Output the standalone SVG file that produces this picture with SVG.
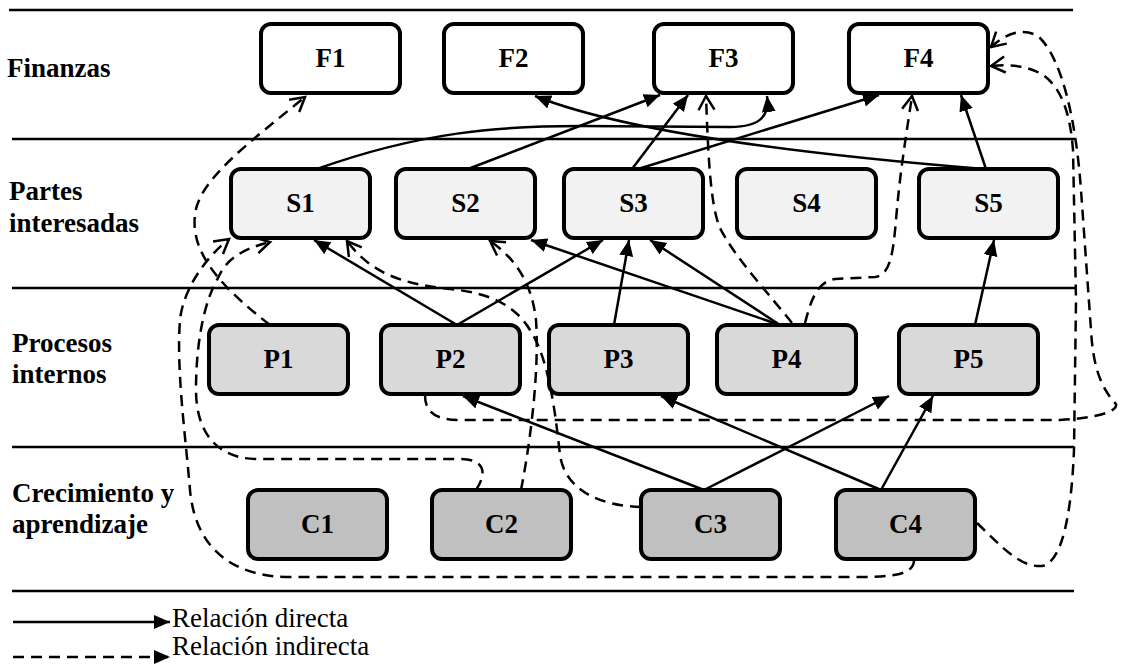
<svg xmlns="http://www.w3.org/2000/svg" width="1126" height="664" viewBox="0 0 1126 664">
<style>
.bg{fill:#fff}
.sep{stroke:#000;stroke-width:2.5;fill:none}
.box{stroke:#000;stroke-width:4;}
.f{fill:#fff}.s{fill:#f2f2f2}.p{fill:#d9d9d9}.c{fill:#c0c0c0}
.nl{font-family:"Liberation Serif","Times New Roman",serif;font-weight:bold;font-size:27px;text-anchor:middle;fill:#000}
.rl{font-family:"Liberation Serif","Times New Roman",serif;font-weight:bold;font-size:27px;fill:#000}
.lg{font-family:"Liberation Serif","Times New Roman",serif;font-size:27px;fill:#000}
.d{stroke:#000;stroke-width:2.5;fill:none;marker-end:url(#ah)}
.i{stroke:#000;stroke-width:2.5;fill:none;stroke-dasharray:11 7;marker-end:url(#oh)}
</style>
<defs>
<marker id="ah" markerUnits="userSpaceOnUse" markerWidth="18" markerHeight="16" refX="16" refY="7" orient="auto">
<path d="M0,0 L16,7 L0,14 z" fill="#000" stroke="none"/>
</marker>
<marker id="oh" markerUnits="userSpaceOnUse" markerWidth="20" markerHeight="20" refX="16" refY="9" orient="auto">
<path d="M2,1 L16,9 L2,17" fill="none" stroke="#000" stroke-width="2.5" stroke-dasharray="none"/>
</marker>
</defs>
<rect class="bg" x="0" y="0" width="1126" height="664"/>
<g id="separators">
<line class="sep" x1="9" y1="10" x2="1073" y2="10"/>
<line class="sep" x1="12" y1="139" x2="1075" y2="139"/>
<line class="sep" x1="12" y1="288" x2="1076" y2="288"/>
<line class="sep" x1="12" y1="447" x2="1074" y2="447"/>
<line class="sep" x1="12" y1="591" x2="1074" y2="591"/>
</g>
<g id="row-labels">
<text class="rl" x="7" y="77">Finanzas</text>
<text class="rl" x="9" y="200">Partes</text>
<text class="rl" x="9" y="232">interesadas</text>
<text class="rl" x="12" y="352">Procesos</text>
<text class="rl" x="12" y="383">internos</text>
<text class="rl" x="12" y="502">Crecimiento y</text>
<text class="rl" x="12" y="533">aprendizaje</text>
</g>
<g id="connectors">
<path class="d" d="M317,169 C420,132 500,126 580,126 L730,127 C763,127 769,114 767,96"/>
<path class="d" d="M468,169 L660,95"/>
<path class="d" d="M632,169 L688,95"/>
<path class="d" d="M638,169 L879,95"/>
<path class="d" d="M986,169 L961,95"/>
<path class="d" d="M984,169 Q650,142 535,96"/>
<path class="d" d="M457,325 L314,240"/>
<path class="d" d="M457,325 L603,240"/>
<path class="d" d="M614,325 L629,240"/>
<path class="d" d="M780,325 L650,240"/>
<path class="d" d="M780,325 L531,240"/>
<path class="d" d="M975,325 L994,240"/>
<path class="d" d="M704,490 L463,396"/>
<path class="d" d="M704,490 L889,396"/>
<path class="d" d="M881,490 L661,396"/>
<path class="d" d="M881,490 L933,396"/>
<path class="i" d="M270,325 C225,290 190,255 195,215 C198,180 250,142 305,97"/>
<path class="i" d="M914,560 C914,574 895,577 860,577 L290,577 C230,577 195,546 190,490 C186,440 176,370 180,320 C183,290 205,258 229,239"/>
<path class="i" d="M476,490 C488,472 484,459 460,459 L255,459 C215,458 196,430 196,390 C196,340 205,300 218,278 C225,262 238,250 270,242"/>
<path class="i" d="M521,490 C527,460 540,380 536,320 C532,283 515,258 490,241"/>
<path class="i" d="M641,507 C600,506 565,490 560,455 C556,420 550,360 530,330 C515,305 490,293 450,289 C400,284 370,272 347,241"/>
<path class="i" d="M792,323 C770,295 735,258 720,228 C710,205 708,150 706,96"/>
<path class="i" d="M805,323 C810,305 815,282 835,279 L875,277 C890,275 893,255 896,220 C900,170 908,124 912,96"/>
<path class="i" d="M977,523 C1000,545 1020,568 1042,566 C1065,562 1072,500 1074,450 L1076,300 L1073,150 C1070,110 1060,85 1040,73 C1025,66 1010,64 991,66"/>
<path class="i" d="M425,395 C425,412 435,420 460,420 L1060,420 C1095,418 1118,412 1116,404 C1100,387 1093,365 1091,330 L1081,190 C1076,120 1062,60 1040,38 C1028,28 1010,30 991,47"/>
</g>
<g id="F1"><rect class="box f" x="261" y="24" width="139" height="69" rx="10"/><text class="nl" x="330.5" y="67">F1</text></g>
<g id="F2"><rect class="box f" x="444" y="24" width="139" height="69" rx="10"/><text class="nl" x="513.5" y="67">F2</text></g>
<g id="F3"><rect class="box f" x="654" y="24" width="139" height="69" rx="10"/><text class="nl" x="723.5" y="67">F3</text></g>
<g id="F4"><rect class="box f" x="849" y="24" width="139" height="69" rx="10"/><text class="nl" x="918.5" y="67">F4</text></g>
<g id="S1"><rect class="box s" x="231" y="169" width="139" height="69" rx="10"/><text class="nl" x="300.5" y="212">S1</text></g>
<g id="S2"><rect class="box s" x="396" y="169" width="139" height="69" rx="10"/><text class="nl" x="465.5" y="212">S2</text></g>
<g id="S3"><rect class="box s" x="564" y="169" width="139" height="69" rx="10"/><text class="nl" x="633.5" y="212">S3</text></g>
<g id="S4"><rect class="box s" x="737" y="169" width="139" height="69" rx="10"/><text class="nl" x="806.5" y="212">S4</text></g>
<g id="S5"><rect class="box s" x="919" y="169" width="139" height="69" rx="10"/><text class="nl" x="988.5" y="212">S5</text></g>
<g id="P1"><rect class="box p" x="209" y="325" width="139" height="69" rx="10"/><text class="nl" x="278.5" y="368">P1</text></g>
<g id="P2"><rect class="box p" x="381" y="325" width="139" height="69" rx="10"/><text class="nl" x="450.5" y="368">P2</text></g>
<g id="P3"><rect class="box p" x="549" y="325" width="139" height="69" rx="10"/><text class="nl" x="618.5" y="368">P3</text></g>
<g id="P4"><rect class="box p" x="717" y="325" width="139" height="69" rx="10"/><text class="nl" x="786.5" y="368">P4</text></g>
<g id="P5"><rect class="box p" x="899" y="325" width="139" height="69" rx="10"/><text class="nl" x="968.5" y="368">P5</text></g>
<g id="C1"><rect class="box c" x="248" y="490" width="139" height="69" rx="10"/><text class="nl" x="317.5" y="533">C1</text></g>
<g id="C2"><rect class="box c" x="432" y="490" width="139" height="69" rx="10"/><text class="nl" x="501.5" y="533">C2</text></g>
<g id="C3"><rect class="box c" x="641" y="490" width="139" height="69" rx="10"/><text class="nl" x="710.5" y="533">C3</text></g>
<g id="C4"><rect class="box c" x="836" y="490" width="139" height="69" rx="10"/><text class="nl" x="905.5" y="533">C4</text></g>
<g id="legend">
<line x1="13" y1="622" x2="170" y2="622" stroke="#000" stroke-width="2.5" marker-end="url(#ah)"/>
<text class="lg" x="172" y="627">Relación directa</text>
<line x1="13" y1="657" x2="170" y2="657" stroke="#000" stroke-width="2.5" stroke-dasharray="11 7" marker-end="url(#ah)"/>
<text class="lg" x="172" y="655">Relación indirecta</text>
</g>
</svg>
